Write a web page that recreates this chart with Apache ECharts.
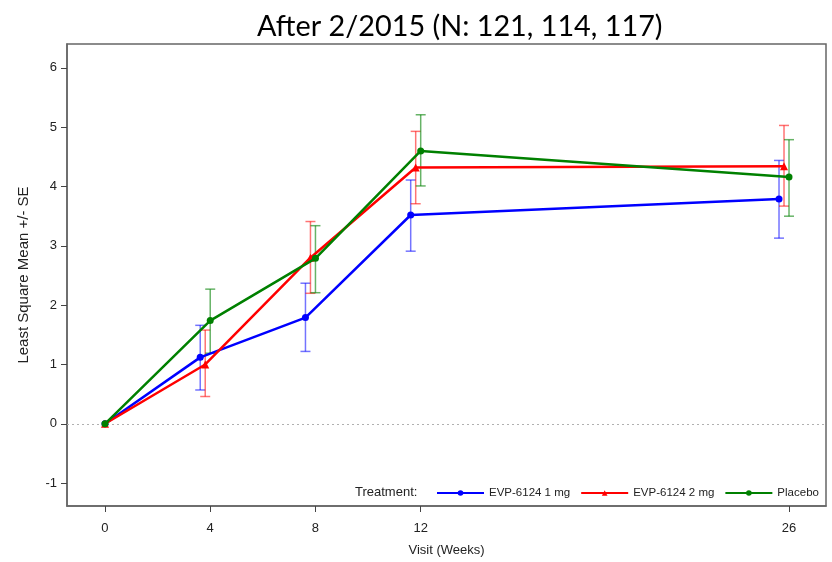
<!DOCTYPE html>
<html>
<head>
<meta charset="utf-8">
<script src="https://cdn.jsdelivr.net/npm/echarts@6/dist/echarts.min.js"></script>
<style>
  html, body { margin: 0; padding: 0; background: #fff; }
  #chart { width: 832px; height: 562px; }
</style>
</head>
<body>
<div id="chart"></div>
<script>
// Visit weeks shown on the x axis and y tick values
const xTicks = [0, 4, 8, 12, 26];
const yTicks = [-1, 0, 1, 2, 3, 4, 5, 6];

// EVP-6124 1 mg (plotted slightly left of each visit)
const dose1Weeks = [0, 3.62, 7.62, 11.62, 25.62];
const dose1Mean = [0, 1.12, 1.79, 3.52, 3.79];
const dose1Low = [0, 0.57, 1.22, 2.91, 3.13];
const dose1High = [0, 1.66, 2.37, 4.11, 4.44];

// EVP-6124 2 mg
const dose2Weeks = [0, 3.81, 7.81, 11.81, 25.81];
const dose2Mean = [0, 1.00, 2.80, 4.32, 4.34];
const dose2Low = [0, 0.46, 2.20, 3.71, 3.67];
const dose2High = [0, 1.58, 3.41, 4.93, 5.03];

// Placebo
const placeboWeeks = [0, 4, 8, 12, 26];
const placeboMean = [0, 1.74, 2.79, 4.60, 4.16];
const placeboLow = [0, 1.19, 2.21, 4.01, 3.50];
const placeboHigh = [0, 2.27, 3.34, 5.21, 4.79];

const groups = [
  { name: 'EVP-6124 1 mg', color: '#0000ff', bar: 'rgba(0,0,255,0.55)', symbol: 'circle', weeks: dose1Weeks, mean: dose1Mean, low: dose1Low, high: dose1High },
  { name: 'EVP-6124 2 mg', color: '#ff0000', bar: 'rgba(255,0,0,0.55)', symbol: 'triangle', weeks: dose2Weeks, mean: dose2Mean, low: dose2Low, high: dose2High },
  { name: 'Placebo', color: '#008000', bar: 'rgba(0,128,0,0.6)', symbol: 'circle', weeks: placeboWeeks, mean: placeboMean, low: placeboLow, high: placeboHigh }
];

const labelFont = '"Liberation Sans", Arial, sans-serif';

function errorBarSeries(g) {
  return {
    type: 'custom',
    name: g.name + ' SE',
    z: 2,
    silent: true,
    data: g.weeks.map((w, i) => [w, g.low[i], g.high[i]]),
    renderItem: function (params, api) {
      const lo = api.value(1), hi = api.value(2);
      if (hi - lo <= 0) return null;
      const top = api.coord([api.value(0), hi]);
      const bot = api.coord([api.value(0), lo]);
      const cap = 5;
      const style = { stroke: g.bar, lineWidth: 1.5, fill: null };
      return {
        type: 'group',
        children: [
          { type: 'line', shape: { x1: top[0], y1: top[1], x2: bot[0], y2: bot[1] }, style: style },
          { type: 'line', shape: { x1: top[0] - cap, y1: top[1], x2: top[0] + cap, y2: top[1] }, style: style },
          { type: 'line', shape: { x1: bot[0] - cap, y1: bot[1], x2: bot[0] + cap, y2: bot[1] }, style: style }
        ]
      };
    }
  };
}

function lineSeries(g, i) {
  const s = {
    type: 'line',
    name: g.name,
    z: 3 + i,
    data: g.weeks.map((w, k) => [w, g.mean[k]]),
    symbol: g.symbol,
    symbolSize: g.symbol === 'triangle' ? 8 : 7,
    showAllSymbol: true,
    color: g.color,
    lineStyle: { width: 2.5, color: g.color },
    itemStyle: { color: g.color },
    emphasis: { disabled: true },
    animation: false
  };
  if (i === 0) {
    s.markLine = {
      silent: true,
      symbol: 'none',
      label: { show: false },
      lineStyle: { type: [2, 3], color: '#b0b0b0', width: 1 },
      data: [{ yAxis: 0 }],
      z: 1
    };
  }
  return s;
}

const series = [];
groups.forEach(g => series.push(errorBarSeries(g)));
groups.forEach((g, i) => series.push(lineSeries(g, i)));

const chart = echarts.init(document.getElementById('chart'), null, { renderer: 'canvas' });
chart.setOption({
  animation: false,
  backgroundColor: '#fff',
  title: {
    text: 'After 2/2015 (N: 121, 114, 117)',
    left: 252,
    top: 7,
    textStyle: { fontFamily: 'Lato, "Open Sans", sans-serif', fontSize: 28.8, fontWeight: 'normal', color: '#000' }
  },
  grid: {
    left: 67, right: 6, top: 44, bottom: 54,
    show: true, borderColor: '#666', borderWidth: 1.5, backgroundColor: '#fff'
  },
  xAxis: {
    type: 'value',
    min: -1.444, max: 27.406,
    name: 'Visit (Weeks)',
    nameLocation: 'middle',
    nameGap: 38,
    nameTextStyle: { fontFamily: labelFont, fontSize: 13, color: '#222' },
    axisLine: { show: true, onZero: false, lineStyle: { color: '#666', width: 1.5 } },
    axisTick: { show: true, length: 6, customValues: xTicks, lineStyle: { color: '#444' } },
    axisLabel: { customValues: xTicks, margin: 16, fontFamily: labelFont, fontSize: 13, color: '#222' },
    splitLine: { show: false }
  },
  yAxis: {
    type: 'value',
    min: -1.386, max: 6.403,
    name: 'Least Square Mean +/- SE',
    nameLocation: 'middle',
    nameGap: 36,
    nameTextStyle: { fontFamily: labelFont, fontSize: 15, color: '#222' },
    axisLine: { show: true, onZero: false, lineStyle: { color: '#666', width: 1.5 } },
    axisTick: { show: true, length: 6, customValues: yTicks, lineStyle: { color: '#444' } },
    axisLabel: { customValues: yTicks, margin: 10, fontFamily: labelFont, fontSize: 13, color: '#222' },
    splitLine: { show: false }
  },
  legend: {
    data: groups.map(g => g.name),
    left: 436,
    top: 487,
    width: 396,
    padding: 0,
    itemWidth: 47,
    itemHeight: 7,
    itemGap: 10,
    textStyle: { fontFamily: labelFont, fontSize: 11.5, color: '#222' },
    selectedMode: false
  },
  graphic: [
    {
      type: 'text',
      left: 355,
      top: 486,
      style: { text: 'Treatment:', font: '13px ' + labelFont, fill: '#222' }
    }
  ],
  series: series
});
</script>
</body>
</html>
